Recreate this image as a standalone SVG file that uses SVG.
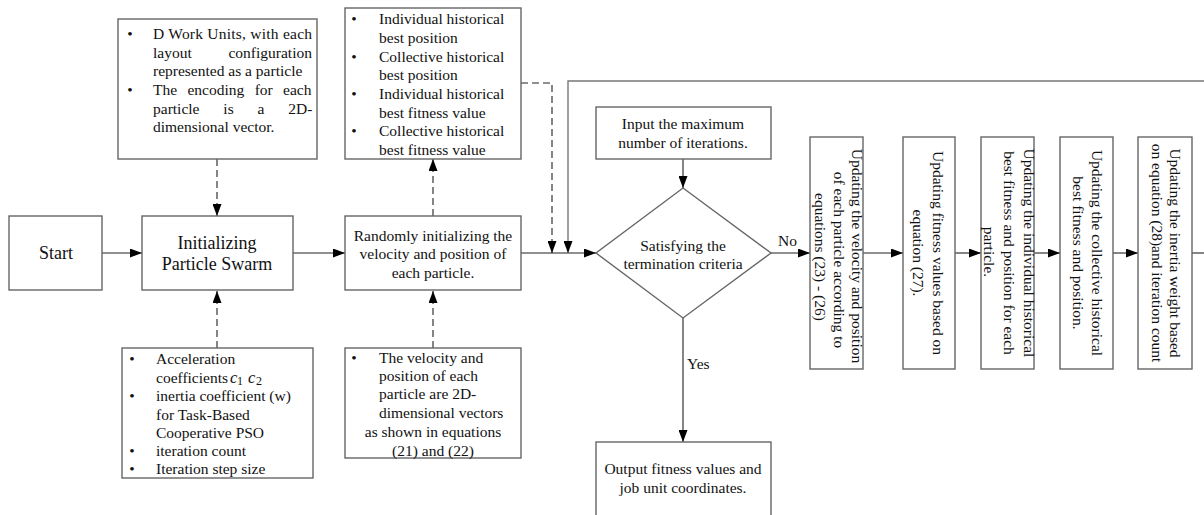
<svg xmlns="http://www.w3.org/2000/svg" width="1204" height="515" viewBox="0 0 1204 515">
<style>
.box{fill:#fff;stroke:#666;stroke-width:1.4}
.t{font-family:"Liberation Serif","Times New Roman",serif;font-size:15.5px;fill:#111;dominant-baseline:central}
.c{text-anchor:middle}
.big{font-size:18px}
.ln{fill:none;stroke:#222;stroke-width:1.1}
.lg{fill:none;stroke:#777;stroke-width:1.4}
.dash{stroke-dasharray:7,4}
</style>
<defs>
<marker id="ah" markerWidth="12" markerHeight="9" refX="12" refY="4.5" orient="auto" markerUnits="userSpaceOnUse">
<path d="M0,0 L12,4.5 L0,9 z" fill="#000"/>
</marker>
</defs>

<g id="connectors">
<line class="ln" x1="102" y1="253" x2="142" y2="253" marker-end="url(#ah)"/>
<line class="ln" x1="293" y1="253" x2="345" y2="253" marker-end="url(#ah)"/>
<line class="ln" x1="521" y1="253" x2="596" y2="253" marker-end="url(#ah)"/>
<line class="ln dash" x1="217" y1="159" x2="217" y2="216" marker-end="url(#ah)"/>
<line class="ln dash" x1="217" y1="348" x2="217" y2="291" marker-end="url(#ah)"/>
<line class="ln dash" x1="433" y1="216" x2="433" y2="159" marker-end="url(#ah)"/>
<line class="ln dash" x1="433" y1="348" x2="433" y2="291" marker-end="url(#ah)"/>
<polyline class="ln dash" points="521,83 552,83 552,253" marker-end="url(#ah)"/>
<polyline class="lg" points="1204,81 568,81 568,253" marker-end="url(#ah)"/>
<line class="ln" x1="683" y1="159" x2="683" y2="188" marker-end="url(#ah)"/>
<line class="ln" x1="771" y1="253" x2="810" y2="253" marker-end="url(#ah)"/>
<line class="ln" x1="863" y1="253" x2="903" y2="253" marker-end="url(#ah)"/>
<line class="ln" x1="955" y1="253" x2="981" y2="253" marker-end="url(#ah)"/>
<line class="ln" x1="1034" y1="253" x2="1060" y2="253" marker-end="url(#ah)"/>
<line class="ln" x1="1113" y1="253" x2="1138" y2="253" marker-end="url(#ah)"/>
<line class="ln" x1="1192" y1="253" x2="1204" y2="253"/>
<line class="ln" x1="683" y1="318" x2="683" y2="442" marker-end="url(#ah)"/>
<text class="t" x="778" y="240">No</text>
<text class="t" x="687" y="363">Yes</text>
</g>

<g id="start">
<rect class="box" x="9" y="216" width="93" height="74"/>
<text class="t c big" x="56" y="253">Start</text>
</g>

<g id="init">
<rect class="box" x="142" y="216" width="151" height="74"/>
<text class="t c big" x="217" y="243">Initializing</text>
<text class="t c big" x="217" y="264">Particle Swarm</text>
</g>

<g id="random">
<rect class="box" x="345" y="216" width="176" height="74"/>
<text class="t c" x="433" y="235">Randomly initializing the</text>
<text class="t c" x="433" y="253">velocity and position of</text>
<text class="t c" x="433" y="272">each particle.</text>
</g>

<g id="workunits">
<rect class="box" x="118" y="19" width="199" height="140"/>
<text class="t c" x="130" y="33">•</text>
<text class="t" x="153" y="33" textLength="159" lengthAdjust="spacing">D Work Units, with each</text>
<text class="t" x="153" y="52">layout</text>
<text class="t" x="312" y="52" text-anchor="end">configuration</text>
<text class="t" x="153" y="70">represented as a particle</text>
<text class="t c" x="130" y="89">•</text>
<text class="t" x="153" y="89" word-spacing="6.5">The encoding for each</text>
<text class="t" x="153" y="108" word-spacing="20">particle is a 2D-</text>
<text class="t" x="153" y="126">dimensional vector.</text>
</g>

<g id="params">
<rect class="box" x="122" y="348" width="191" height="130"/>
<text class="t c" x="132" y="358">•</text>
<text class="t" x="156" y="358">Acceleration</text>
<text class="t" x="156" y="377">coefficients<tspan x="230" font-style="italic" font-size="16.5">c</tspan><tspan x="237" dy="4" font-size="12">1</tspan><tspan x="248" dy="-4" font-style="italic" font-size="16.5">c</tspan><tspan x="256" dy="4" font-size="12">2</tspan></text>
<text class="t c" x="132" y="395">•</text>
<text class="t" x="156" y="395">inertia coefficient (w)</text>
<text class="t" x="156" y="414">for Task-Based</text>
<text class="t" x="156" y="432">Cooperative PSO</text>
<text class="t c" x="132" y="450">•</text>
<text class="t" x="156" y="450">iteration count</text>
<text class="t c" x="132" y="468">•</text>
<text class="t" x="156" y="468">Iteration step size</text>
</g>

<g id="history">
<rect class="box" x="345" y="8" width="176" height="151"/>
<text class="t c" x="354" y="18">•</text>
<text class="t" x="379" y="18">Individual historical</text>
<text class="t" x="379" y="37">best position</text>
<text class="t c" x="354" y="56">•</text>
<text class="t" x="379" y="56">Collective historical</text>
<text class="t" x="379" y="74.5">best position</text>
<text class="t c" x="354" y="93">•</text>
<text class="t" x="379" y="93">Individual historical</text>
<text class="t" x="379" y="112">best fitness value</text>
<text class="t c" x="354" y="130.5">•</text>
<text class="t" x="379" y="130.5">Collective historical</text>
<text class="t" x="379" y="149">best fitness value</text>
</g>

<g id="vectors">
<rect class="box" x="345" y="348" width="176" height="110"/>
<text class="t c" x="354" y="357">•</text>
<text class="t" x="379" y="357">The velocity and</text>
<text class="t" x="379" y="375">position of each</text>
<text class="t" x="379" y="393">particle are 2D-</text>
<text class="t" x="379" y="412">dimensional vectors</text>
<text class="t c" x="433" y="431">as shown in equations</text>
<text class="t c" x="433" y="450">(21) and (22)</text>
</g>

<g id="maxiter">
<rect class="box" x="596" y="107" width="175" height="52"/>
<text class="t c" x="683" y="123">Input the maximum</text>
<text class="t c" x="683" y="142">number of iterations.</text>
</g>

<g id="decision">
<polygon class="box" points="683,188 771,253 683,318 596,253"/>
<text class="t c" x="683" y="245">Satisfying the</text>
<text class="t c" x="683" y="263">termination criteria</text>
</g>

<g id="output">
<rect class="box" x="596" y="442" width="175" height="80"/>
<text class="t c" x="683" y="468">Output fitness values and</text>
<text class="t c" x="683" y="487">job unit coordinates.</text>
</g>

<g id="update-velocity">
<rect class="box" x="810" y="137" width="53" height="232"/>
<text class="t c" transform="translate(857,256) rotate(90)">Updating the velocity and position</text>
<text class="t c" transform="translate(839,260) rotate(90)">of each particle according to</text>
<text class="t c" transform="translate(820,257) rotate(90)">equations (23) - (26)</text>
</g>

<g id="update-fitness">
<rect class="box" x="903" y="137" width="52" height="232"/>
<text class="t c" transform="translate(938,253) rotate(90)">Updating fitness values based on</text>
<text class="t c" transform="translate(918,253) rotate(90)">equation (27).</text>
</g>

<g id="update-individual">
<rect class="box" x="981" y="137" width="53" height="232"/>
<text class="t c" transform="translate(1029,253) rotate(90)">Updating the individual historical</text>
<text class="t c" transform="translate(1009,253) rotate(90)">best fitness and position for each</text>
<text class="t c" transform="translate(989,252) rotate(90)">particle.</text>
</g>

<g id="update-collective">
<rect class="box" x="1060" y="137" width="53" height="232"/>
<text class="t c" transform="translate(1097,253) rotate(90)">Updating the collective historical</text>
<text class="t c" transform="translate(1078,253) rotate(90)">best fitness and position.</text>
</g>

<g id="update-inertia">
<rect class="box" x="1138" y="137" width="54" height="232"/>
<text class="t c" transform="translate(1175,253) rotate(90)">Updating the inertia weight based</text>
<text class="t c" transform="translate(1157,253) rotate(90)">on equation (28)and iteration count</text>
</g>
</svg>
